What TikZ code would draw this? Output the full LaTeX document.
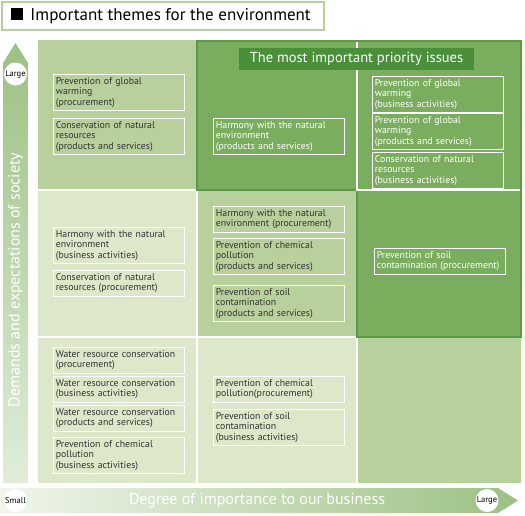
\documentclass[tikz,border=0pt]{standalone}
\usepackage{fontspec}
\setmainfont{PT Sans}
\usetikzlibrary{positioning}
\definecolor{envLight}{HTML}{DDE7C9}
\definecolor{envMid}{HTML}{B8D09C}
\definecolor{envDark}{HTML}{7AAD5E}
\definecolor{envEdge}{HTML}{5A9A44}
\definecolor{envHead}{HTML}{4A8F3A}
\definecolor{envArrow}{HTML}{9CC183}
\definecolor{envText}{HTML}{333333}

\begin{document}
\begin{tikzpicture}[x=1pt, y=-1pt,
    titleBar/.style={draw=envMid, line width=1.4pt, rectangle, fill=white, minimum width=322pt, minimum height=28pt},
    headBar/.style={rectangle, fill=envHead, text=white, font=\fontsize{14.5}{14.5}\selectfont, minimum width=235pt, minimum height=22pt},
    themeBox/.style={draw=white, line width=0.7pt, rectangle, anchor=north west, align=left, font=\fontsize{9.8}{10.4}\selectfont, text=envText, inner xsep=2.5pt, inner ysep=3pt, text width=126pt},
    themeBoxDark/.style={themeBox, text=white},
    scaleCircle/.style={circle, fill=white, inner sep=0pt, minimum size=23pt, font=\fontsize{8.5}{8.5}\selectfont, text=black},
    axisLabel/.style={text=white, font=\fontsize{16}{16}\selectfont},
]
\useasboundingbox (0,0) rectangle (525,515);
% title
\node[titleBar] (title) at (163,16) {};
\node[anchor=west, font=\fontsize{17}{17}\selectfont, inner sep=0pt] (titleText) at ([xshift=10pt]title.west) {\rule{12pt}{12pt}\hspace{7pt}Important themes for the environment};
% axis arrows
\shade[top color=envArrow, bottom color=envArrow!30] (3,63) -- (15.5,43) -- (28,63) -- (28,483) -- (3,483) -- cycle;
\shade[left color=envArrow!15, right color=envArrow] (0,488) -- (498,488) -- (518,500.5) -- (498,513) -- (0,513) -- cycle;
\node[axisLabel, rotate=90] (demandLabel) at (15.5,280) {Demands and expectations of society};
\node[axisLabel] (degreeLabel) at (257,500.5) {Degree of importance to our business};
\node[scaleCircle] (largeUp) at (15.5,74) {Large};
\node[scaleCircle] (smallEnd) at (15.5,500.5) {Small};
\node[scaleCircle] (largeRight) at (487,500.5) {Large};
% matrix cells
\fill[envMid] (38,40) rectangle (197,190);
\fill[envLight] (38,190) rectangle (197,337);
\fill[envMid] (197,190) rectangle (357,337);
\fill[envLight] (38,337) rectangle (357,483);
\fill[envMid] (357,337) rectangle (521,483);
\draw[white, line width=1.5pt] (197,190) -- (197,483);
\draw[white, line width=1.5pt] (357,337) -- (357,483);
\draw[white, line width=1.5pt] (38,190) -- (197,190);
\draw[white, line width=1.5pt] (38,337) -- (357,337);
% priority area
\draw[envEdge, line width=1.3pt, fill=envDark] (197,41) -- (521,41) -- (521,337) -- (357,337) -- (357,190) -- (197,190) -- cycle;
\draw[white, line width=1.2pt] (357,42) -- (357,190) -- (520,190);
\node[headBar] (priority) at (356.5,59) {The most important priority issues};
% themes
\node[themeBox] (gwProc) at (53,74) {Prevention of global\\warming\\(procurement)};
\node[themeBox] (nrProd) at (53,118) {Conservation of natural\\resources\\(products and services)};
\node[themeBoxDark] (hnProd) at (213,118) {Harmony with the natural\\environment\\(products and services)};
\node[themeBoxDark] (gwBiz) at (372,76) {Prevention of global\\warming\\(business activities)};
\node[themeBoxDark] (gwProd) at (372,113) {Prevention of global\\warming\\(products and services)};
\node[themeBoxDark] (nrBiz) at (372,152) {Conservation of natural\\resources\\(business activities)};
\node[themeBox] (hnBiz) at (53,227) {Harmony with the natural\\environment\\(business activities)};
\node[themeBox] (nrProc) at (53,270) {Conservation of natural\\resources (procurement)};
\node[themeBox] (hnProc) at (213,206) {Harmony with the natural\\environment (procurement)};
\node[themeBox] (cpProd) at (213,238) {Prevention of chemical\\pollution\\(products and services)};
\node[themeBox] (scProd) at (213,285) {Prevention of soil\\contamination\\(products and services)};
\node[themeBoxDark] (scProc) at (374,248) {Prevention of soil\\contamination (procurement)};
\node[themeBox] (wrProc) at (53,347) {Water resource conservation\\(procurement)};
\node[themeBox] (wrBiz) at (53,376) {Water resource conservation\\(business activities)};
\node[themeBox] (wrProd) at (53,405) {Water resource conservation\\(products and services)};
\node[themeBox] (cpBiz) at (53,437) {Prevention of chemical\\pollution\\(business activities)};
\node[themeBox] (cpProc) at (213,376) {Prevention of chemical\\pollution(procurement)};
\node[themeBox] (scBiz) at (213,409) {Prevention of soil\\contamination\\(business activities)};
\end{tikzpicture}
\end{document}
